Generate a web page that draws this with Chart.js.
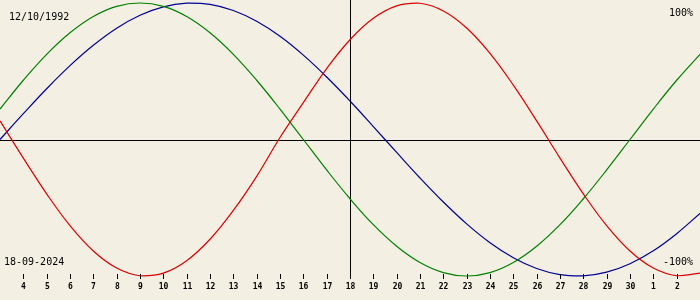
<!DOCTYPE html>
<html>
<head>
<meta charset="utf-8">
<script src="https://cdn.jsdelivr.net/npm/chart.js@4/dist/chart.umd.min.js"></script>
<style>
  body { margin: 0; background: #f3efe3; }
  #wrap { width: 700px; height: 300px; }
</style>
</head>
<body>
<div id="wrap"><canvas id="bio" width="700" height="300"></canvas></div>
<script>
// days shown on the axis (3 sep .. 3 oct)
const days = ['3', '4', '5', '6', '7', '8', '9', '10', '11', '12', '13', '14', '15', '16', '17', '18',
    '19', '20', '21', '22', '23', '24', '25', '26', '27', '28', '29', '30', '1', '2', '3'];

// values in %, one per day
const physical = [13.6, -13.6, -39.8, -63.1, -81.7, -94.2, -99.8, -97.9, -88.8, -73.1, -52.0, -27.0, 1.5,
    27.0, 52.0, 73.1, 88.8, 97.9, 99.8, 94.2, 81.7, 63.1, 39.8, 13.6, -13.6, -39.8, -63.1, -81.7, -94.2, -99.8, -97.9];
const emotional = [22.3, 43.4, 62.4, 78.2, 90.1, 97.5, 100, 97.5, 90.1, 78.2, 62.4, 43.4, 22.3, 0,
    -22.3, -43.4, -62.4, -78.2, -90.1, -97.5, -100, -97.5, -90.1, -78.2, -62.4, -43.4, -22.3, 0, 22.3, 43.4, 62.4];
const intellectual = [0, 18.9, 37.2, 54.1, 69.0, 81.5, 91.0, 97.2, 99.9, 99.0, 94.5, 86.6, 75.6, 61.8, 45.8,
    28.2, 9.5, -9.5, -28.2, -45.8, -61.8, -75.6, -86.6, -94.5, -99.0, -99.9, -97.2, -91.0, -81.5, -69.0, -54.1];

const birthDate = '12/10/1992';
const today = '18-09-2024';
const todayIndex = 15;
const yMaxLabel = '100%';
const yMinLabel = '-100%';

const eixos = {
    id: 'eixos',
    beforeDatasetsDraw(chart) {
        const ctx = chart.ctx;
        const x = chart.scales.x;
        const y = chart.scales.y;
        ctx.save();
        ctx.strokeStyle = '#000';
        ctx.lineWidth = 1;
        // zero line
        let y0 = Math.round(y.getPixelForValue(0)) + 0.5;
        ctx.beginPath();
        ctx.moveTo(0, y0);
        ctx.lineTo(chart.width, y0);
        ctx.stroke();
        // today
        let xh = Math.round(x.getPixelForValue(todayIndex)) + 0.5;
        ctx.beginPath();
        ctx.moveTo(xh, 0);
        ctx.lineTo(xh, 279);
        ctx.stroke();
        ctx.restore();
    },
    afterDraw(chart) {
        const ctx = chart.ctx;
        const x = chart.scales.x;
        ctx.save();
        ctx.strokeStyle = '#000';
        ctx.fillStyle = '#000';
        ctx.lineWidth = 1;
        ctx.font = 'bold 8px "DejaVu Sans Mono"';
        ctx.textAlign = 'center';
        ctx.textBaseline = 'middle';
        for (let i = 1; i < days.length - 1; i++) {
            let px = Math.round(x.getPixelForValue(i)) + 0.5;
            ctx.beginPath();
            ctx.moveTo(px, 274);
            ctx.lineTo(px, 279);
            ctx.stroke();
            ctx.fillText(days[i], px, 287);
        }
        ctx.font = '10px "DejaVu Sans Mono"';
        ctx.textAlign = 'left';
        ctx.fillText(birthDate, 9, 17);
        ctx.fillText(today, 4, 262);
        ctx.textAlign = 'right';
        ctx.fillText(yMaxLabel, 693, 13);
        ctx.fillText(yMinLabel, 693, 262.5);
        ctx.restore();
    }
};

function serie(label, data, cor) {
    return {
        label: label,
        data: data,
        borderColor: cor,
        borderWidth: 1.2,
        pointRadius: 0,
        tension: 0.4,
        clip: 3
    };
}

new Chart(document.getElementById('bio'), {
    type: 'line',
    data: {
        labels: days,
        datasets: [
            serie('Físico', physical, 'rgb(220, 0, 0)'),
            serie('Emocional', emotional, 'rgb(0, 128, 0)'),
            serie('Intelectual', intellectual, 'rgb(0, 0, 150)')
        ]
    },
    options: {
        responsive: false,
        animation: false,
        layout: { padding: { top: 3, bottom: 24, left: 0, right: 0 } },
        scales: {
            x: { display: false, offset: false },
            y: { display: false, min: -100, max: 100 }
        },
        plugins: {
            legend: { display: false },
            tooltip: { enabled: false }
        }
    },
    plugins: [eixos]
});
</script>
</body>
</html>
